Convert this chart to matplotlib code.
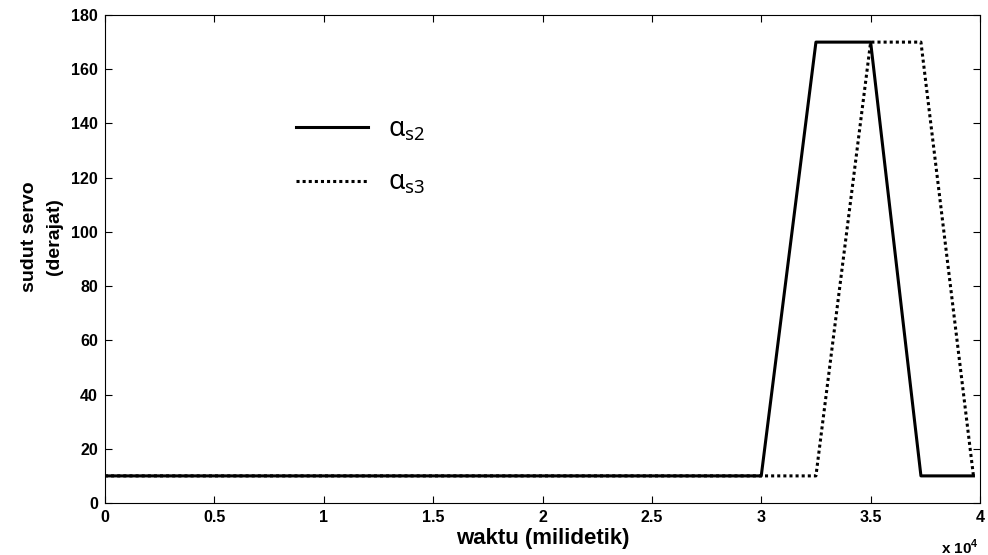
import matplotlib
matplotlib.use('Agg')

import matplotlib.pyplot as plt
from matplotlib.ticker import FuncFormatter, MultipleLocator

matplotlib.rcParams['font.family'] = ['Liberation Sans', 'DejaVu Sans']
matplotlib.rcParams['mathtext.fontset'] = 'custom'
matplotlib.rcParams['mathtext.rm'] = 'Noto Sans'

# waktu (ms) and servo angle (deg) at each corner of the curves
t_s2 = [0, 30000, 32500, 35000, 37300, 39700]
a_s2 = [10, 10, 170, 170, 10, 10]

t_s3 = [0, 32500, 35000, 37300, 39700]
a_s3 = [10, 10, 170, 170, 10]

fig = plt.figure(figsize=(9.88, 5.55), dpi=100)
ax = fig.add_axes([105 / 988, 1 - 503 / 555, 875 / 988, 488 / 555])

ax.plot(t_s2, a_s2, color='k', lw=2.2, label='α$_{\\mathregular{s2}}$')
ax.plot(t_s3, a_s3, color='k', lw=2.2, ls=(0, (1, 1)), label='α$_{\\mathregular{s3}}$')

ax.set_xlim(0, 40000)
ax.set_ylim(0, 180)
ax.xaxis.set_major_locator(MultipleLocator(5000))
ax.yaxis.set_major_locator(MultipleLocator(20))
ax.xaxis.set_major_formatter(FuncFormatter(lambda v, p: '%g' % (v / 1e4)))
ax.tick_params(direction='in', top=True, right=True, length=5, width=0.8,
               labelsize=11.5, pad=5)
for lbl in ax.get_xticklabels() + ax.get_yticklabels():
  lbl.set_fontweight('bold')

ax.set_xlabel('waktu (milidetik)', fontsize=16, fontweight='bold', labelpad=2)
ax.set_ylabel('sudut servo\n(derajat)', fontsize=14, fontweight='bold',
              linespacing=1.65)
ax.yaxis.set_label_coords(-0.048, 0.545)
fig.text(941 / 988, 1 - 547 / 555, 'x 10$^{\\mathregular{4}}$', fontsize=11,
         fontweight='bold', ha='left', va='center')

leg = ax.legend(loc='upper left', bbox_to_anchor=(0.206, 0.816), frameon=False,
                fontsize=19, handlelength=2.75, handletextpad=0.75, labelspacing=0.97,
                borderaxespad=0)
for txt in leg.get_texts():
  txt.set_family('Noto Sans')

fig.savefig('out.png', dpi=100)
